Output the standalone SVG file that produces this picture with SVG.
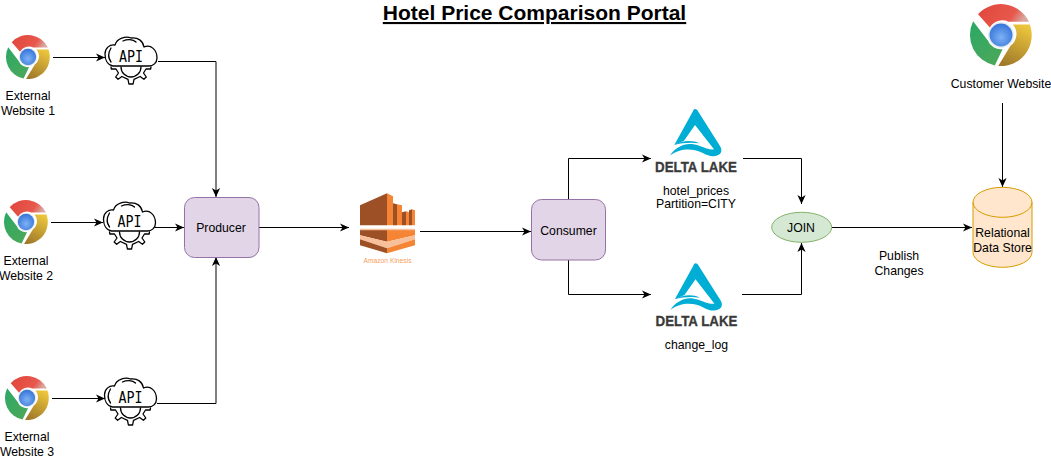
<svg xmlns="http://www.w3.org/2000/svg" width="1051" height="460" viewBox="0 0 1051 460">
<style>
text{font-family:"Liberation Sans",Arial,sans-serif;font-size:12.25px;fill:#000;text-anchor:middle}
.c{fill:none;stroke:#000;stroke-width:1;marker-end:url(#a)}
.box{fill:#e1d5e7;stroke:#9673a6;stroke-width:1}
.api{fill:none;stroke:#000;stroke-width:1.3;stroke-linejoin:round;stroke-linecap:round}
</style>
<defs>
<marker id="a" markerUnits="userSpaceOnUse" markerWidth="10" markerHeight="10" refX="9" refY="5" orient="auto"><path d="M0 .9L9 5L0 9.100L2.500 5Z" fill="#000"/></marker>
<radialGradient id="gb" cx="50%" cy="60%" r="65%"><stop offset="0" stop-color="#7fb2f5"/><stop offset="1" stop-color="#2f6fd6"/></radialGradient>
<linearGradient id="gr" x1="0" y1="0" x2="1" y2=".3"><stop offset="0" stop-color="#e0463c"/><stop offset=".75" stop-color="#e8584c"/><stop offset="1" stop-color="#d9a79f"/></linearGradient>
<linearGradient id="gg" x1="0" y1="0" x2=".7" y2="1"><stop offset="0" stop-color="#2ba866"/><stop offset="1" stop-color="#4aa85a"/></linearGradient>
<linearGradient id="gy" x1=".7" y1="0" x2=".3" y2="1"><stop offset="0" stop-color="#ecc53c"/><stop offset="1" stop-color="#a07a2a"/></linearGradient>
<symbol id="chrome" viewBox="-100 -100 200 200" overflow="visible">
<path fill="url(#gr)" d="M-74-67A100 100 0 0 1 90-43L24-43A46 46 0 0 0-36-24Z"/>
<path fill="url(#gg)" d="M-90-44L-43 17A46 46 0 0 0 5 46L-20 98A100 100 0 0 1-90-44Z"/>
<path fill="url(#gy)" d="M-9 100L31 34A46 46 0 0 0 38-34L93-34A100 100 0 0 1-9 100Z"/>
<circle r="42" fill="#e8eef0"/><circle r="37" fill="url(#gb)"/>
</symbol>
<g id="apii">
<path class="api" d="M-18 9C-24 8-26 2-26-3C-26-9-21-13-16-12C-14-19-5-21 0-19C7-20 12-16 13-10C20-13 26-7 26 1C26 6 22 9 18 9H-18"/>
<path class="api" d="M-20-9C-23-4-23 1-20 5M-8-16C-4-18 2-18 5-15"/>
<path class="api" d="M20 10L19.600 12L15 12L12.500 16L15.300 20L12.900 22.300L9.100 19.500L3 22.300L2.100 27L-2.100 27L-3 22.300L-9.100 19.500L-12.900 22.300L-15.300 20L-12.500 16L-15 12L-19.600 12L-20 10M-10 10A10 10 0 0 0 10 10"/>
<text x="0" y="5" style="font-family:'DejaVu Sans Mono',monospace;font-size:15px" textLength="24" lengthAdjust="spacingAndGlyphs">API</text>
</g>
<g id="kin">
<path fill="#9d5025" d="M0 12L27 0L27 32L0 32Z"/><path fill="#f58534" d="M27 0L33 3L33 32L27 32Z"/>
<path fill="#9d5025" d="M33 10L37 11L37 32L33 32Z"/><path fill="#f58534" d="M37 11L42 12L42 32L37 32Z"/>
<path fill="#9d5025" d="M42 19L46 18L46 32L42 32Z"/><path fill="#f58534" d="M46 18L49 19L49 32L46 32Z"/>
<path fill="#9d5025" d="M49 17L52 16L52 32L49 32Z"/><path fill="#f58534" d="M52 16L55 17L55 32L52 32Z"/>
<path fill="#9d5025" d="M0 36.500L27 36.500L27 48.500L0 42Z"/><path fill="#f58534" d="M27 36.500L55 36.500L55 42L27 48.500Z"/>
<path fill="#f7c09a" d="M0 35.500H55V37H0ZM0 42L27 48.500L55 42L55 46L27 55L0 46Z"/>
<path fill="#9d5025" d="M0 46L27 55L27 60L0 52Z"/><path fill="#f58534" d="M27 55L55 46L55 52L27 60Z"/>
<text x="27.500" y="70" style="font-size:7px;fill:#f58534;fill-opacity:.85" textLength="48" lengthAdjust="spacingAndGlyphs">Amazon Kinesis</text>
</g>
<g id="delta">
<g transform="scale(.3333) translate(-165,-27)" fill="#00add4">
<path d="M165 27C170 27 172 30 175 35L240 138C247 150 245 160 235 165C220 172 205 168 190 160C165 147 125 140 90 167C105 142 135 128 160 133C185 137 205 152 222 148L165 75L132 122L103 135L158 35C160 30 162 27 165 27Z"/>
<path d="M103 135C125 122 155 118 178 130C155 126 125 128 103 135Z"/>
</g>
<text x="1" y="63" style="font-weight:bold;font-size:14px;fill:#3a3a3a;stroke:#3a3a3a;stroke-width:.3" textLength="82" lengthAdjust="spacingAndGlyphs">DELTA LAKE</text>
</g>
</defs>
<rect width="1051" height="460" fill="#fff"/>
<g id="connectors">
<path class="c" d="M53 57.500H105"/>
<path class="c" d="M158 61.500H216V197"/>
<path class="c" d="M51 222.500H103"/>
<path class="c" d="M155 227.500H184"/>
<path class="c" d="M52 398.500H105"/>
<path class="c" d="M157 403.500H216V257"/>
<path class="c" d="M259 227.500H349"/>
<path class="c" d="M420 231.500H531"/>
<path class="c" d="M568.500 200V158.500H651"/>
<path class="c" d="M568.500 260V294.500H651"/>
<path class="c" d="M743 158.500H801.500V204"/>
<path class="c" d="M742 294.500H801.500V243"/>
<path class="c" d="M832 227.500H972"/>
<path class="c" d="M1002.500 103V187"/>
</g>
<text id="title" x="534.500" y="20" style="font-weight:bold;font-size:21px;text-decoration:underline">Hotel Price Comparison Portal</text>
<g id="web1"><use href="#chrome" x="6" y="35" width="44" height="44"/><text x="28" y="100">External</text><text x="28" y="115">Website 1</text></g>
<g id="web2"><use href="#chrome" x="4" y="200" width="44" height="44"/><text x="26" y="265">External</text><text x="26" y="280">Website 2</text></g>
<g id="web3"><use href="#chrome" x="5" y="376" width="44" height="44"/><text x="27" y="441">External</text><text x="27" y="456">Website 3</text></g>
<g id="api1"><use href="#apii" x="131" y="57"/></g>
<g id="api2"><use href="#apii" x="129.500" y="222"/></g>
<g id="api3"><use href="#apii" x="130.500" y="398"/></g>
<g id="producer"><rect class="box" x="184.500" y="197.500" width="74.500" height="60" rx="10"/><text x="221" y="231.500">Producer</text></g>
<g id="kinesis"><use href="#kin" x="360" y="193.300"/></g>
<g id="consumer"><rect class="box" x="531.500" y="199.500" width="74" height="60.500" rx="10"/><text x="568.500" y="235">Consumer</text></g>
<g id="lake1"><use href="#delta" x="695" y="109"/><text x="696" y="195">hotel_prices</text><text x="696" y="208">Partition=CITY</text></g>
<g id="lake2"><use href="#delta" x="695.500" y="263.300"/><text x="696.500" y="349">change_log</text></g>
<g id="join"><ellipse cx="801.700" cy="227.300" rx="30" ry="15" fill="#d5e8d4" stroke="#82b366"/><text x="801" y="232">JOIN</text></g>
<text id="publish" x="899" y="260">Publish</text><text x="899" y="275">Changes</text>
<g id="store"><path d="M973 202.300V252.300A29.500 15 0 0 0 1032 252.300V202.300A29.500 15 0 0 0 973 202.300Z" fill="#ffe6cc" stroke="#d79b00"/><path d="M973 202.300A29.500 15 0 0 0 1032 202.300" fill="none" stroke="#d79b00"/><text x="1002.500" y="236.700">Relational</text><text x="1002.500" y="251.700">Data Store</text></g>
<g id="customer"><use href="#chrome" x="970" y="4" width="62" height="62"/><text x="1001" y="88">Customer Website</text></g>
</svg>
